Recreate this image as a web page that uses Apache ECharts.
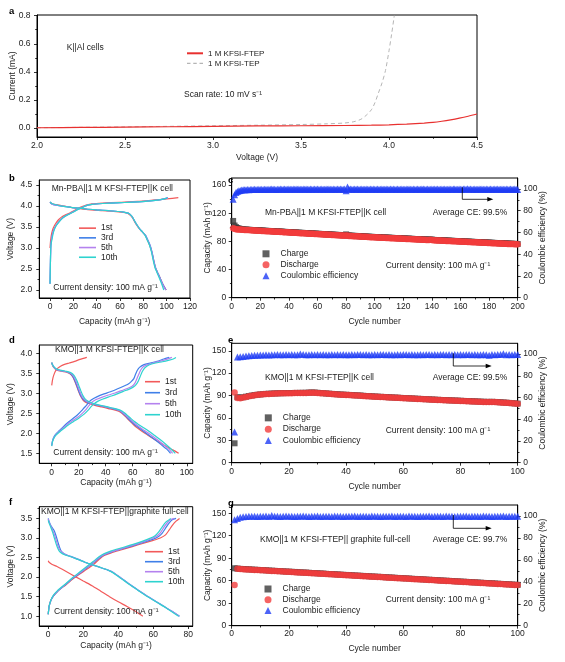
<!DOCTYPE html>
<html><head><meta charset="utf-8">
<script src="https://cdn.jsdelivr.net/npm/echarts@6/dist/echarts.min.js"></script>
<style>html,body{margin:0;padding:0;background:#fff}#c{width:565px;height:662px}</style>
</head><body><div id="c"></div>
<script>
// ---------- Panel a: LSV of K||Al cells ----------
const aFTEP = [[2.0,0.002],[2.25,0.004],[2.5,0.006],[2.75,0.009],[3.0,0.012],[3.25,0.015],[3.5,0.016],[3.75,0.018],[3.9,0.02],[4.0,0.023],[4.1,0.028],[4.2,0.035],[4.25,0.04],[4.3,0.048],[4.35,0.058],[4.4,0.07],[4.45,0.084],[4.5,0.1]];
const aTEP = [[2.0,0.002],[2.5,0.008],[3.0,0.016],[3.25,0.02],[3.5,0.025],[3.65,0.03],[3.75,0.036],[3.8,0.045],[3.84,0.062],[3.87,0.09],[3.9,0.13],[3.92,0.18],[3.94,0.25],[3.96,0.32],[3.98,0.41],[4.0,0.55],[4.015,0.67],[4.03,0.8]];
const aXTicks = [2.0,2.5,3.0,3.5,4.0,4.5];
const aYTicks = [0,0.2,0.4,0.6,0.8];

// ---------- Panel b: Mn-PBA voltage profiles ----------
const b1Chg = [[0,3.0],[0.3,3.12],[0.8,3.25],[1.5,3.36],[2.5,3.46],[3.7,3.53],[5.5,3.61],[7.5,3.68],[9.5,3.73],[12.5,3.78],[16.5,3.83],[20,3.88],[23,3.93],[27,3.98],[31,4.02],[36,4.05],[45,4.07],[60,4.09],[75,4.11],[88,4.14],[100,4.17],[110,4.2]];
const b1Dis = [[0,4.09],[2,4.05],[8,4.02],[18,3.97],[31,3.92],[45,3.89],[59,3.86],[65,3.84],[68,3.8],[70.5,3.73],[72.5,3.63],[74.5,3.54],[76.5,3.46],[78.5,3.4],[81.5,3.31],[83.5,3.19],[85.5,3.06],[87.2,2.91],[88.8,2.71],[90.3,2.54],[91.8,2.44],[93.8,2.32],[95.8,2.19],[97.8,2.08],[99.6,2.0]];
const b3Chg = [[0,2.15],[0.3,2.6],[0.7,3.05],[1.5,3.25],[3,3.42],[5,3.53],[8,3.64],[11,3.72],[15,3.79],[19,3.85],[23,3.91],[27,3.96],[31,4.01],[36,4.04],[45,4.06],[60,4.08],[75,4.1],[88,4.13],[96,4.16],[101,4.2]];
const b3Dis = [[0,4.09],[1.5,4.05],[5,4.02],[10,4.0],[18,3.97],[25,3.95],[31,3.93],[40,3.91],[50,3.89],[59,3.87],[64,3.85],[67,3.83],[69,3.79],[71,3.72],[73,3.62],[75,3.53],[77,3.45],[79,3.39],[82,3.3],[84,3.18],[86,3.05],[87.5,2.9],[89,2.7],[90.5,2.53],[92,2.43],[94,2.31],[96,2.18],[98,2.07],[99.5,2.0]];
const b5Chg = [[0,2.15],[0.3,2.6],[0.7,3.05],[1.5,3.24],[3,3.41],[5,3.53],[8,3.64],[11,3.72],[15,3.79],[19,3.85],[23,3.91],[27,3.96],[31,4.01],[36,4.04],[45,4.06],[60,4.08],[75,4.1],[88,4.13],[96,4.16],[101,4.19]];
const b5Dis = [[0,4.1],[1.5,4.05],[5,4.02],[10,4.0],[18,3.97],[25,3.95],[31,3.93],[40,3.91],[50,3.89],[59,3.87],[64,3.85],[67,3.83],[69,3.79],[71,3.72],[73,3.62],[75,3.53],[77,3.45],[79,3.39],[81.8,3.3],[83.8,3.18],[85.8,3.05],[87.3,2.9],[88.8,2.7],[90.3,2.53],[91.8,2.43],[93.8,2.31],[95.8,2.18],[97.7,2.07],[99.2,2.0]];
const b10Chg = [[0,2.15],[0.3,2.6],[0.7,3.05],[1.7,3.21],[3,3.38],[5,3.52],[8,3.63],[11,3.72],[15,3.79],[19.5,3.85],[24,3.92],[28,3.97],[31,4.01],[36,4.04],[45,4.06],[60,4.08],[75,4.1],[88,4.13],[96,4.16],[100.5,4.19]];
const b10Dis = [[0,4.1],[1.5,4.06],[5,4.03],[10,4.0],[18,3.97],[25,3.95],[31,3.93],[40,3.91],[50,3.89],[59,3.87],[64,3.85],[67,3.83],[69,3.79],[71,3.72],[73,3.62],[75,3.53],[77,3.45],[79,3.39],[81.5,3.3],[83.5,3.18],[85.5,3.05],[87,2.9],[88.5,2.7],[90,2.53],[91.5,2.43],[93.5,2.3],[95.5,2.16],[97.5,2.0]];
const bXTicks = [0,20,40,60,80,100,120];
const bYTicks = [2.0,2.5,3.0,3.5,4.0,4.5];

// ---------- Panel c: Mn-PBA cycling (200 cycles) ----------
const cDis = [98.6,97.8,97.3,97.0,96.8,96.7,96.5,96.4,96.3,96.2,
96.1,96.0,95.8,95.7,95.6,95.5,95.4,95.2,95.1,95.0,
94.9,94.8,94.7,94.5,94.4,94.3,94.2,94.1,93.9,93.8,
93.7,93.6,93.5,93.4,93.6,93.1,93.0,92.9,92.8,92.7,
92.5,92.4,92.3,92.2,92.1,92.0,91.8,91.7,91.6,91.5,
91.4,91.3,91.1,91.0,90.9,90.8,90.7,90.6,90.4,90.3,
90.2,90.1,90.0,89.9,89.7,89.6,89.5,89.4,89.3,89.2,
89.0,88.9,88.8,88.7,88.6,88.5,88.3,88.2,88.1,88.4,
88.5,87.8,87.6,87.5,87.4,87.3,87.2,87.1,86.9,86.8,
86.7,86.6,86.5,86.4,86.2,86.1,86.0,85.9,85.8,85.7,
85.6,85.5,85.4,85.3,85.2,85.1,85.0,84.9,84.8,84.7,
84.6,84.5,84.4,84.3,84.2,84.1,84.0,83.9,83.8,83.7,
83.6,83.5,83.4,83.3,83.2,83.1,83.0,82.9,82.8,82.7,
82.6,82.5,82.4,82.3,82.2,82.1,82.0,81.9,82.3,82.1,
81.6,81.5,81.4,81.3,81.2,81.1,81.0,80.9,80.8,80.7,
80.6,80.5,80.4,80.3,80.2,80.1,80.0,79.9,79.8,79.7,
79.6,79.5,79.4,79.3,79.2,79.1,79.0,78.9,78.8,78.7,
78.6,78.5,78.4,78.3,78.2,78.1,78.0,77.9,77.8,77.7,
77.6,77.5,77.4,77.3,77.2,77.1,77.0,76.9,76.8,76.7,
76.6,76.5,76.4,76.3,76.3,76.2,76.1,76.0,76.0,75.9];
const cChg = [109.0,102.5,100.2,99.0,98.2,97.7,97.3,97.0,96.8,96.7,
96.6,96.4,96.3,96.2,96.1,96.0,95.8,95.7,95.6,95.5,
95.4,95.3,95.1,95.0,94.9,94.8,94.7,94.5,94.4,94.3,
94.2,94.1,94.0,93.9,93.9,93.6,93.5,93.4,93.3,93.1,
93.0,92.9,92.8,92.7,92.6,92.4,92.3,92.2,92.1,92.0,
91.9,91.7,91.6,91.5,91.4,91.3,91.2,91.0,90.9,90.8,
90.7,90.6,90.5,90.3,90.2,90.1,90.0,89.9,89.8,89.6,
89.5,89.4,89.3,89.2,89.1,88.9,88.8,88.7,88.6,89.9,
88.6,88.3,88.1,88.0,87.9,87.8,87.7,87.5,87.4,87.3,
87.2,87.1,87.0,86.8,86.7,86.6,86.5,86.4,86.3,86.2,
86.1,86.0,85.9,85.8,85.7,85.6,85.5,85.4,85.3,85.2,
85.1,85.0,84.9,84.8,84.7,84.6,84.5,84.4,84.3,84.2,
84.1,84.0,83.9,83.8,83.7,83.6,83.5,83.4,83.3,83.2,
83.1,83.0,82.9,82.8,82.7,82.6,82.5,82.4,82.6,82.5,
82.1,82.0,81.9,81.8,81.7,81.6,81.5,81.4,81.3,81.2,
81.1,81.0,80.9,80.8,80.7,80.6,80.5,80.4,80.3,80.2,
80.1,80.0,79.9,79.8,79.7,79.6,79.5,79.4,79.3,79.2,
79.1,79.0,78.9,78.8,78.7,78.6,78.5,78.4,78.3,78.2,
78.1,78.0,77.9,77.8,77.7,77.6,77.5,77.4,77.3,77.2,
77.1,77.0,76.9,76.8,76.7,76.6,76.5,76.4,76.4,76.3];
const cCE = [90.5,94.6,96.6,97.6,98.2,98.6,98.9,99.1,99.2,99.3,
99.4,99.3,99.5,99.4,99.5,99.6,99.4,99.5,99.6,99.5,
99.6,99.5,99.7,99.6,99.5,99.7,99.6,99.8,99.6,99.7,
99.5,99.7,99.6,99.8,99.7,99.6,99.8,99.7,99.6,99.8,
99.7,99.6,99.8,99.7,99.9,99.6,99.8,99.7,99.6,99.8,
99.7,99.8,99.6,99.7,99.9,99.7,99.6,99.8,99.7,99.8,
99.6,99.7,99.8,99.7,99.6,99.9,99.7,99.8,99.6,99.7,
99.8,99.7,99.6,99.8,99.7,99.9,99.6,99.7,99.8,98.2,
101.7,99.6,99.8,99.7,99.6,99.8,99.7,99.9,99.6,99.7,
99.8,99.6,99.7,99.8,99.7,99.6,99.9,99.7,99.8,99.6,
99.7,99.8,99.6,99.7,99.9,99.7,99.6,99.8,99.7,99.6,
99.8,99.7,99.9,99.6,99.7,99.8,99.6,99.7,99.8,99.7,
99.6,99.8,99.7,99.9,99.7,99.6,99.8,99.7,99.6,99.8,
99.7,99.6,99.8,99.9,99.7,99.6,99.8,99.7,99.6,99.8,
99.7,99.9,99.6,99.8,99.7,99.6,99.8,99.7,99.9,99.6,
99.7,99.8,99.6,99.7,99.9,99.8,99.6,99.7,99.8,99.7,
99.6,99.9,99.8,99.7,100.2,99.6,99.8,99.7,99.6,99.8,
99.7,99.6,99.8,99.7,99.9,99.6,99.7,99.8,99.7,99.6,
99.8,99.7,99.6,99.8,99.7,99.9,99.6,99.7,99.8,99.7,
99.6,99.8,99.7,99.6,99.8,99.7,99.6,99.8,99.7,99.5];
const cXTicks = [0,20,40,60,80,100,120,140,160,180,200];
const cYTicks = [0,40,80,120,160];
const ceTicks = [0,20,40,60,80,100];

// ---------- Panel d: KMO half-cell voltage profiles ----------
const d1Chg = [[0,3.2],[0.4,3.3],[1,3.4],[2,3.5],[3,3.57],[4.5,3.63],[6.5,3.68],[9,3.72],[13,3.76],[17,3.8],[21,3.85],[26,3.9]];
const d1Dis = [[0,3.77],[0.5,3.71],[1.5,3.65],[3,3.6],[5,3.57],[8,3.55],[11,3.53],[13.5,3.49],[15.5,3.42],[17,3.31],[18.5,3.18],[20,3.04],[21.5,2.92],[23,2.84],[25,2.78],[28,2.74],[32,2.7],[37,2.66],[42,2.62],[47,2.58],[50,2.55],[52,2.5],[54,2.44],[56,2.37],[59,2.27],[62,2.17],[66,2.07],[70,1.98],[74,1.89],[78,1.81],[82,1.73],[86,1.65],[90,1.58],[94,1.5]];
const d3Chg = [[0,1.7],[0.5,1.8],[1.5,1.9],[3,1.98],[5.7,2.07],[9,2.18],[12,2.27],[15.7,2.37],[19,2.46],[22,2.56],[24,2.64],[25.7,2.7],[28,2.8],[31,2.87],[35.7,2.95],[40,3.0],[45,3.06],[50.7,3.14],[54,3.19],[57,3.24],[59,3.3],[60.8,3.37],[62,3.47],[63.3,3.57],[65,3.65],[68.3,3.72],[73,3.76],[78,3.8],[83,3.86],[87,3.9]];
const d3Dis = [[0,3.77],[0.5,3.72],[1.5,3.66],[3,3.61],[5,3.58],[8,3.56],[11,3.54],[13.5,3.5],[15.5,3.43],[17,3.33],[18.5,3.2],[20,3.06],[21.5,2.94],[23,2.86],[25,2.8],[28,2.76],[32,2.72],[37,2.68],[42,2.64],[47,2.6],[50,2.57],[52,2.52],[54,2.46],[56,2.39],[59,2.29],[62,2.2],[66,2.1],[70,2.0],[74,1.9],[78,1.8],[82,1.69],[85,1.61],[88,1.5]];
const d5Chg = [[0,1.69],[0.5,1.79],[1.5,1.88],[3,1.96],[6,2.06],[9,2.15],[12,2.24],[16,2.33],[20,2.42],[23,2.51],[25.5,2.6],[27.5,2.69],[29.5,2.77],[32.5,2.84],[37,2.9],[42,2.96],[47,3.01],[52,3.07],[56,3.12],[59.5,3.18],[61.5,3.25],[63,3.36],[64.5,3.48],[66,3.59],[68,3.67],[71,3.72],[75,3.76],[80,3.8],[85,3.85],[89,3.9]];
const d5Dis = [[0,3.77],[0.5,3.72],[1.5,3.66],[3,3.61],[5,3.58],[8,3.56],[11,3.54],[13.8,3.51],[16,3.44],[17.7,3.33],[19.2,3.2],[20.7,3.06],[22.2,2.94],[23.8,2.86],[26,2.8],[29,2.76],[33,2.72],[38,2.68],[43,2.64],[48,2.6],[51,2.56],[53,2.51],[55,2.45],[57,2.39],[60,2.29],[63,2.21],[67,2.11],[71,2.02],[75,1.92],[79,1.82],[83,1.71],[86.5,1.61],[89.5,1.5]];
const d10Chg = [[0,1.68],[0.5,1.78],[1.5,1.87],[3,1.95],[6,2.04],[9,2.12],[12,2.2],[16,2.29],[20,2.38],[24,2.48],[27,2.58],[29,2.66],[31,2.73],[34,2.8],[38,2.86],[43,2.92],[48,2.98],[53,3.05],[57,3.1],[60,3.15],[62,3.2],[64,3.3],[65.5,3.42],[67,3.54],[69,3.64],[72,3.71],[77,3.76],[82,3.79],[87,3.83],[90,3.86],[92,3.9]];
const d10Dis = [[0,3.77],[0.5,3.72],[1.5,3.67],[3,3.62],[5,3.59],[8,3.57],[11,3.55],[14,3.52],[16.5,3.45],[18.5,3.33],[20,3.2],[21.5,3.07],[23,2.95],[24.5,2.87],[27,2.8],[30,2.76],[34,2.72],[39,2.68],[44,2.64],[49,2.6],[52,2.56],[54,2.51],[56,2.45],[58,2.39],[61,2.3],[64,2.23],[68,2.14],[72,2.05],[76,1.95],[80,1.85],[84,1.74],[88,1.62],[91.5,1.5]];
const dXTicks = [0,20,40,60,80,100];
const dYTicks = [1.5,2.0,2.5,3.0,3.5,4.0];

// ---------- Panel e: KMO half-cell cycling (100 cycles) ----------
const eDis = [94.0,86.8,86.5,87.3,88.2,89.0,89.7,90.4,90.9,91.3,
91.7,92.0,92.2,92.4,92.6,92.8,92.9,93.0,93.1,93.2,
93.2,93.3,93.3,93.4,93.4,93.5,93.7,93.9,93.8,93.5,
93.2,92.9,92.6,92.3,92.0,91.7,91.5,91.2,91.0,90.8,
90.6,90.4,90.2,90.0,89.8,89.5,89.2,89.0,88.8,88.5,
88.3,88.1,87.9,87.7,87.5,87.3,87.1,86.9,86.7,86.5,
86.3,86.1,85.9,85.7,85.5,85.3,85.1,84.9,84.7,84.5,
84.3,84.1,83.9,83.8,83.6,83.4,83.3,83.1,83.0,82.8,
82.6,82.5,82.3,82.1,82.0,81.8,81.6,81.5,81.3,81.3,
81.4,81.2,81.0,80.8,80.5,80.2,79.9,79.6,79.3,79.0];
const eChg = [26.0,87.8,87.1,87.7,88.5,89.3,90.0,90.6,91.1,91.5,
91.9,92.2,92.4,92.6,92.8,93.0,93.1,93.2,93.3,93.4,
93.4,93.5,93.5,93.6,93.6,93.7,93.9,94.1,94.0,93.7,
93.4,93.1,92.8,92.5,92.2,91.9,91.7,91.4,91.2,91.0,
90.8,90.6,90.4,90.2,90.0,89.7,89.4,89.2,89.0,88.7,
88.5,88.3,88.1,87.9,87.7,87.5,87.3,87.1,86.9,86.7,
86.5,86.3,86.1,85.9,85.7,85.5,85.3,85.1,84.9,84.7,
84.5,84.3,84.1,84.0,83.8,83.6,83.5,83.3,83.2,83.0,
82.8,82.7,82.5,82.3,82.2,82.0,81.8,81.7,81.5,81.5,
81.6,81.4,81.2,81.0,80.7,80.4,80.1,79.8,79.5,79.2];
const eCE = [28.2,97.4,97.6,97.9,98.2,98.5,98.7,98.9,99.1,99.2,
99.3,99.4,99.3,99.5,99.4,99.6,99.5,99.4,99.6,99.5,
99.6,99.4,99.5,100.1,99.6,99.5,99.4,99.6,99.5,99.6,
99.5,99.6,99.4,99.5,99.6,99.5,99.7,99.5,99.6,99.5,
99.4,99.6,99.5,99.6,99.7,99.5,99.6,99.4,99.5,99.6,
99.5,99.6,99.7,99.5,99.6,99.5,99.4,99.6,99.5,99.7,
99.6,99.5,99.6,99.4,99.5,99.6,99.5,99.7,99.6,99.5,
99.6,99.5,99.7,99.6,99.5,99.6,99.4,99.6,99.5,99.6,
99.5,99.7,99.6,99.5,99.6,99.5,99.4,99.6,99.5,98.9,
99.6,99.5,99.7,99.6,100.3,99.5,99.6,99.5,99.7,99.6];
const eXTicks = [0,20,40,60,80,100];
const eYTicks = [0,30,60,90,120,150];

// ---------- Panel f: KMO||graphite full-cell voltage profiles ----------
const f1Chg = [[0,1.05],[0.5,1.25],[1.5,1.4],[3,1.52],[5,1.62],[7,1.7],[10,1.8],[14,1.95],[18,2.08],[22,2.2],[26,2.33],[29,2.45],[32,2.55],[36,2.62],[42,2.7],[48,2.78],[54,2.86],[60,2.94],[64,3.0],[67,3.08],[69,3.2],[71,3.33],[73,3.43],[75,3.5]];
const f1Dis = [[0,2.42],[0.5,2.38],[2,2.33],[5,2.27],[8,2.2],[12,2.1],[16,2.0],[20,1.9],[25,1.78],[30,1.64],[35,1.5],[40,1.37],[45,1.25],[50,1.12],[53,1.03],[54,1.0]];
const f3Chg = [[0,1.05],[0.5,1.25],[1.5,1.4],[3,1.52],[5,1.62],[7,1.7],[10,1.81],[14,1.97],[18,2.1],[22,2.23],[26,2.37],[29,2.48],[32,2.57],[36,2.64],[42,2.72],[48,2.8],[54,2.88],[60,2.97],[63,3.04],[65,3.12],[67,3.25],[69,3.38],[71,3.47],[73,3.5]];
const f3Dis = [[0,3.5],[0.5,3.42],[1.5,3.32],[2.5,3.25],[3.5,3.18],[4.5,3.05],[5.5,2.9],[6.5,2.76],[7.5,2.66],[9,2.6],[11,2.56],[14,2.51],[18,2.44],[22,2.36],[26,2.3],[30,2.24],[34,2.18],[37,2.12],[40,2.03],[44,1.9],[48,1.77],[52,1.65],[56,1.53],[60,1.42],[64,1.31],[68,1.2],[72,1.09],[75,1.0]];
const f5Chg = [[0,1.05],[0.5,1.25],[1.5,1.4],[3,1.53],[5,1.63],[7,1.71],[10,1.82],[14,1.98],[18,2.11],[22,2.25],[26,2.39],[29,2.5],[32,2.58],[36,2.65],[42,2.73],[48,2.81],[54,2.9],[59,2.98],[62,3.05],[64,3.13],[66,3.27],[68,3.39],[70,3.47],[72,3.5]];
const f5Dis = [[0,3.48],[0.5,3.4],[1.5,3.3],[2.5,3.2],[3.5,3.09],[4.5,2.95],[5.5,2.8],[6.5,2.7],[8,2.63],[10,2.57],[13,2.52],[17,2.45],[21,2.38],[25,2.32],[29,2.26],[33,2.2],[36.5,2.14],[39.5,2.04],[43.5,1.91],[47.5,1.78],[51.5,1.66],[55.5,1.54],[59.5,1.43],[63.5,1.32],[67.5,1.21],[71.5,1.1],[74.8,1.0]];
const f10Chg = [[0,1.05],[0.5,1.25],[1.5,1.41],[3,1.54],[5,1.64],[7,1.72],[10,1.83],[14,1.99],[18,2.13],[22,2.27],[26,2.41],[29,2.52],[32,2.6],[36,2.67],[42,2.75],[48,2.83],[54,2.92],[58,2.99],[61,3.06],[63,3.15],[65,3.28],[67,3.4],[70,3.5]];
const f10Dis = [[0,3.45],[0.5,3.38],[1.5,3.27],[2.5,3.15],[3.5,3.0],[4.5,2.85],[5.5,2.73],[6.5,2.65],[8,2.6],[10,2.56],[13,2.52],[17,2.45],[21,2.38],[25,2.32],[29,2.26],[33,2.2],[36,2.14],[39,2.05],[43,1.92],[47,1.79],[51,1.67],[55,1.55],[59,1.44],[63,1.33],[67,1.22],[71,1.1],[74.5,1.0]];
const fXTicks = [0,20,40,60,80];
const fYTicks = [1.0,1.5,2.0,2.5,3.0,3.5];

// ---------- Panel g: full-cell cycling (100 cycles) ----------
const gDis = [54.3,75.8,75.5,75.3,75.1,74.9,74.6,74.4,74.2,74.0,
73.8,73.6,73.3,73.1,72.9,72.7,72.5,72.2,72.0,71.8,
71.6,71.4,71.1,70.9,70.7,70.5,70.3,70.0,69.8,69.6,
69.4,69.2,68.9,68.7,68.5,68.3,68.1,67.8,67.6,67.4,
67.2,67.0,66.7,66.5,66.3,66.1,65.9,65.6,65.4,65.2,
65.0,64.8,64.5,64.3,64.1,63.9,63.7,63.4,63.2,63.0,
62.8,62.6,62.3,62.1,61.9,61.7,61.5,61.2,61.0,60.8,
60.6,60.4,60.1,59.9,59.7,59.5,59.3,59.0,58.8,58.6,
58.4,58.2,57.9,57.7,57.5,57.3,57.1,56.8,56.6,56.4,
56.2,56.0,55.7,55.5,55.3,55.1,54.9,54.6,54.4,54.2];
const gChg = [76.6,76.2,75.8,75.6,75.4,75.2,74.9,74.7,74.5,74.3,
74.1,73.9,73.6,73.4,73.2,73.0,72.8,72.5,72.3,72.1,
71.9,71.7,71.4,71.2,71.0,70.8,70.6,70.3,70.1,69.9,
69.7,69.5,69.2,69.0,68.8,68.6,68.4,68.1,67.9,67.7,
67.5,67.3,67.0,66.8,66.6,66.4,66.2,65.9,65.7,65.5,
65.3,65.1,64.8,64.6,64.4,64.2,64.0,63.7,63.5,63.3,
63.1,62.9,62.6,62.4,62.2,62.0,61.8,61.5,61.3,61.1,
60.9,60.7,60.4,60.2,60.0,59.8,59.6,59.3,59.1,58.9,
58.7,58.5,58.2,58.0,57.8,57.6,57.4,57.1,56.9,56.7,
56.5,56.3,56.0,55.8,55.6,55.4,55.2,54.9,54.7,54.5];
const gCE = [96.6,97.8,98.9,99.4,99.6,99.7,99.8,99.7,99.6,99.8,
99.7,99.9,99.6,100.4,99.7,99.8,99.6,99.7,99.9,99.7,
99.8,99.6,99.7,99.8,99.9,99.7,99.6,99.8,99.7,99.9,
99.6,99.7,99.8,99.7,99.6,99.9,99.7,99.8,99.6,99.7,
99.8,99.7,99.9,99.6,99.7,99.8,99.7,99.6,99.9,99.7,
99.8,99.6,99.7,99.8,99.7,99.9,99.6,99.7,99.8,99.7,
99.6,99.9,99.7,99.8,99.6,99.7,99.8,99.7,99.9,99.6,
99.7,99.8,99.7,99.6,99.9,99.7,99.8,99.6,99.7,99.8,
99.7,99.9,99.6,99.7,99.8,99.7,99.6,99.9,99.7,99.8,
99.6,99.7,99.8,99.7,99.9,99.6,99.7,99.8,99.7,99.8];
const gXTicks = [0,20,40,60,80,100];
const gYTicks = [0,30,60,90,120,150];

// ---------- styling ----------
const FONT = '"Liberation Sans", Arial, Helvetica, sans-serif';
const TXT = '#222';
const FS = 8.5;
const COL = {'1st':'#f25a5a','3rd':'#3f7fe8','5th':'#b482ee','10th':'#2ed3cf'};
const C_CHG = '#3a3a3a', C_DIS = '#f23c3c', C_CE = '#1f3cf5';

function decFmt(d){ return v => Number(v).toFixed(d); }
function axis(o){
  return {
    type:'value', gridIndex:o.g, min:o.min, max:o.max,
    minInterval:o.step, maxInterval:o.step, splitNumber: 6,
    position:o.pos || (o.isY ? 'left' : 'bottom'),
    axisLine:{show:true, onZero:false, lineStyle:{color:'#000', width:1}},
    axisTick:{show:true, inside:false, length:3, lineStyle:{color:'#000', width:0.8}, customValues:o.ticks},
    minorTick:{show:true, splitNumber:2, length:1.8, lineStyle:{color:'#000', width:0.8}},
    axisLabel:{show:true, customValues:o.ticks, formatter:decFmt(o.dec||0), fontSize:FS, fontFamily:FONT, color:TXT, margin:o.margin||4.5, hideOverlap:false},
    splitLine:{show:false}, minorSplitLine:{show:false},
    name:o.name, nameLocation:'middle', nameGap:o.nameGap, nameMoveOverlap:false,
    nameTextStyle:{fontSize:FS, fontFamily:FONT, color:TXT}
  };
}

const grids = [
  {left:37, top:15, width:440, height:122},
  {left:39.3, top:180, width:150.7, height:118},
  {left:231.7, top:178, width:286, height:119.7},
  {left:39.3, top:345, width:153.4, height:118.3},
  {left:231.7, top:343.3, width:286, height:119.4},
  {left:39.3, top:506.7, width:153.4, height:119.3},
  {left:231.7, top:505, width:286, height:120.7}
].map(g => Object.assign({show:true, borderColor:'#000', borderWidth:1, backgroundColor:'transparent', containLabel:false, outerBoundsMode:'none'}, g));

const CAP = 'Capacity (mAh g\u207B\u00B9)';
const xAxes = [
  axis({g:0, min:2.0, max:4.5, step:0.5, ticks:aXTicks, dec:1, name:'Voltage (V)', nameGap:16.3}),
  axis({g:1, min:-9.2, max:120, step:20, ticks:bXTicks, dec:0, name:CAP, nameGap:18.7}),
  axis({g:2, min:0, max:200, step:20, ticks:cXTicks, dec:0, name:'Cycle number', nameGap:19}),
  axis({g:3, min:-9.2, max:104.4, step:20, ticks:dXTicks, dec:0, name:CAP, nameGap:15}),
  axis({g:4, min:0, max:100, step:20, ticks:eXTicks, dec:0, name:'Cycle number', nameGap:19}),
  axis({g:5, min:-5.1, max:82.5, step:20, ticks:fXTicks, dec:0, name:CAP, nameGap:14.7}),
  axis({g:6, min:0, max:100, step:20, ticks:gXTicks, dec:0, name:'Cycle number', nameGap:18.3, margin:3.5})
];
const yAxes = [
  axis({isY:1, g:0, min:-0.064, max:0.805, step:0.2, ticks:aYTicks, dec:1, name:'Current (mA)', nameGap:20.3, margin:6.5}),
  axis({isY:1, g:1, min:1.81, max:4.62, step:0.5, ticks:bYTicks, dec:1, name:'Voltage (V)', nameGap:24.3, margin:7}),
  axis({isY:1, g:2, min:0, max:170, step:40, ticks:cYTicks, dec:0, name:CAP, nameGap:20, margin:5.5}),
  axis({isY:1, g:2, min:0, max:110, step:20, ticks:ceTicks, dec:0, pos:'right', name:'Coulombic efficiency (%)', nameGap:20.6, margin:5.5}),
  axis({isY:1, g:3, min:1.25, max:4.21, step:0.5, ticks:dYTicks, dec:1, name:'Voltage (V)', nameGap:24.3, margin:7}),
  axis({isY:1, g:4, min:0, max:160, step:30, ticks:eYTicks, dec:0, name:CAP, nameGap:20, margin:5.5}),
  axis({isY:1, g:4, min:0, max:110, step:20, ticks:ceTicks, dec:0, pos:'right', name:'Coulombic efficiency (%)', nameGap:20.6, margin:5.5}),
  axis({isY:1, g:5, min:0.75, max:3.8, step:0.5, ticks:fYTicks, dec:1, name:'Voltage (V)', nameGap:24.3, margin:7}),
  axis({isY:1, g:6, min:0, max:161, step:30, ticks:gYTicks, dec:0, name:CAP, nameGap:20, margin:5.5}),
  axis({isY:1, g:6, min:0, max:110, step:20, ticks:ceTicks, dec:0, pos:'right', name:'Coulombic efficiency (%)', nameGap:20.6, margin:5.5})
];

const series = [];
function curve(name, data, xi, yi){
  series.push({type:'line', name, data, xAxisIndex:xi, yAxisIndex:yi, symbol:'none', showSymbol:false, smooth:0.2,
    lineStyle:{color:COL[name], width:1.2}, itemStyle:{color:COL[name]}, silent:true, z:3});
}
// panel a
series.push({type:'line', name:'1 M KFSI-FTEP', data:aFTEP, xAxisIndex:0, yAxisIndex:0, symbol:'none', showSymbol:false, smooth:0.3,
  lineStyle:{color:'#e8302f', width:1.2}, itemStyle:{color:'#e8302f'}, z:4});
series.push({type:'line', name:'1 M KFSI-TEP', data:aTEP, xAxisIndex:0, yAxisIndex:0, symbol:'none', showSymbol:false, smooth:0.3,
  lineStyle:{color:'#b5b5b5', width:1, type:[4,3]}, itemStyle:{color:'#b5b5b5'}, z:3});
// panels b, d, f
[['1st',b1Chg,b1Dis],['3rd',b3Chg,b3Dis],['5th',b5Chg,b5Dis],['10th',b10Chg,b10Dis]].forEach(([n,c,d]) => { curve(n,c,1,1); curve(n,d,1,1); });
[['1st',d1Chg,d1Dis],['3rd',d3Chg,d3Dis],['5th',d5Chg,d5Dis],['10th',d10Chg,d10Dis]].forEach(([n,c,d]) => { curve(n,c,3,4); curve(n,d,3,4); });
[['1st',f1Chg,f1Dis],['3rd',f3Chg,f3Dis],['5th',f5Chg,f5Dis],['10th',f10Chg,f10Dis]].forEach(([n,c,d]) => { curve(n,c,5,7); curve(n,d,5,7); });

function cyc(arr){ return arr.map((v,i) => [i+1, v]); }
function cycling(xi, yl, yr, chg, dis, ce){
  series.push({type:'scatter', name:'Charge', data:cyc(chg), xAxisIndex:xi, yAxisIndex:yl, symbol:'rect', symbolSize:6, itemStyle:{color:C_CHG}, silent:true, z:2});
  series.push({type:'scatter', name:'Discharge', data:cyc(dis), xAxisIndex:xi, yAxisIndex:yl, symbol:'circle', symbolSize:6.5, itemStyle:{color:C_DIS}, silent:true, z:3});
  series.push({type:'scatter', name:'Coulombic efficiency', data:cyc(ce), xAxisIndex:xi, yAxisIndex:yr, symbol:'triangle', symbolSize:7, itemStyle:{color:C_CE}, silent:true, z:4});
}
cycling(2, 2, 3, cChg, cDis, cCE);
cycling(4, 5, 6, eChg, eDis, eCE);
cycling(6, 8, 9, gChg, gDis, gCE);

const legTS = (lh) => ({fontSize:FS, fontFamily:FONT, color:TXT, lineHeight:lh});
const cycNames = ['1st','3rd','5th','10th'].map(n => ({name:n, icon:'rect'}));
const cNames = ['Charge','Discharge','Coulombic efficiency'];
const DASH_ICON = 'path://M0 0H3.5V1.3H0Z M6.3 0H9.8V1.3H6.3Z M12.6 0H16.1V1.3H12.6Z';
const legends = [
  {left:187, top:48.3, orient:'vertical', itemWidth:16, itemHeight:2, itemGap:0,
   data:[{name:'1 M KFSI-FTEP', icon:'rect'},{name:'1 M KFSI-TEP', icon:DASH_ICON}], textStyle:{fontSize:8, fontFamily:FONT, color:TXT, lineHeight:10}},
  {left:79, top:223.3, orient:'vertical', itemWidth:17, itemHeight:1.6, itemGap:0, data:cycNames, textStyle:legTS(9.7)},
  {left:145, top:376.2, orient:'vertical', itemWidth:15, itemHeight:1.6, itemGap:0, data:cycNames, textStyle:legTS(11)},
  {left:145, top:546.7, orient:'vertical', itemWidth:18, itemHeight:1.6, itemGap:0, data:cycNames, textStyle:legTS(10)},
  {left:262.5, top:248.3, orient:'vertical', itemWidth:7, itemHeight:7, itemGap:0, data:cNames, textStyle:Object.assign(legTS(11),{padding:[0,0,0,6]})},
  {left:264.8, top:412.2, orient:'vertical', itemWidth:7, itemHeight:7, itemGap:0, data:cNames, textStyle:Object.assign(legTS(11.3),{padding:[0,0,0,6]})},
  {left:264.5, top:583.6, orient:'vertical', itemWidth:7, itemHeight:7, itemGap:0, data:cNames, textStyle:Object.assign(legTS(10.8),{padding:[0,0,0,6]})}
].map(l => Object.assign({selectedMode:false, padding:0}, l));

function T(x, y, text, extra){
  return {type:'text', x, y, silent:true, z:100, style:Object.assign({text, fontSize:FS, fontFamily:FONT, fill:TXT, align:'left', verticalAlign:'middle'}, extra||{})};
}
function L(x, y, s){ return T(x, y, s, {fontSize:9.5, fontWeight:'bold', fill:'#000'}); }
function arrow(x, y1, y2, x2){
  return [
    {type:'polyline', silent:true, z:100, shape:{points:[[x,y1],[x,y2],[x2-5,y2]]}, style:{stroke:'#000', lineWidth:0.8, fill:null}},
    {type:'polygon', silent:true, z:100, shape:{points:[[x2-6,y2-2.2],[x2,y2],[x2-6,y2+2.2]]}, style:{fill:'#000'}}
  ];
}
const CD = 'Current density: 100 mA g\u207B\u00B9';
const graphics = [
  L(9, 11, 'a'), L(9, 178, 'b'), L(228, 180, 'c'), L(9, 340.7, 'd'), L(228, 340.7, 'e'), L(9, 502.7, 'f'), L(228, 503.3, 'g'),
  T(66.7, 47.7, 'K||Al cells'),
  T(184, 94.3, 'Scan rate: 10 mV s\u207B\u00B9'),
  T(51.7, 189, 'Mn-PBA||1 M KFSI-FTEP||K cell'),
  T(53.3, 287.3, CD),
  T(265, 212.7, 'Mn-PBA||1 M KFSI-FTEP||K cell'),
  T(432.7, 212.7, 'Average CE: 99.5%'),
  T(385.7, 266, CD),
  T(55, 350, 'KMO||1 M KFSI-FTEP||K cell'),
  T(53.3, 452.3, CD),
  T(265, 377.7, 'KMO||1 M KFSI-FTEP||K cell'),
  T(432.7, 377.7, 'Average CE: 99.5%'),
  T(385.7, 431, CD),
  T(41, 511.7, 'KMO||1 M KFSI-FTEP||graphite full-cell'),
  T(54, 611.7, CD),
  T(260, 540, 'KMO||1 M KFSI-FTEP|| graphite full-cell'),
  T(432.7, 540, 'Average CE: 99.7%'),
  T(385.7, 600, CD),
  ...arrow(462.3, 187.3, 199.3, 493.3),
  ...arrow(453.3, 353.3, 366, 491.7),
  ...arrow(453.3, 515, 528.3, 491.7)
];

const chart = echarts.init(document.getElementById('c'), null, {renderer:'canvas', width:565, height:662});
chart.setOption({
  animation:false,
  backgroundColor:'#fff',
  textStyle:{fontFamily:FONT},
  grid:grids,
  xAxis:xAxes,
  yAxis:yAxes,
  legend:legends,
  series:series,
  graphic:graphics
});
</script></body></html>
